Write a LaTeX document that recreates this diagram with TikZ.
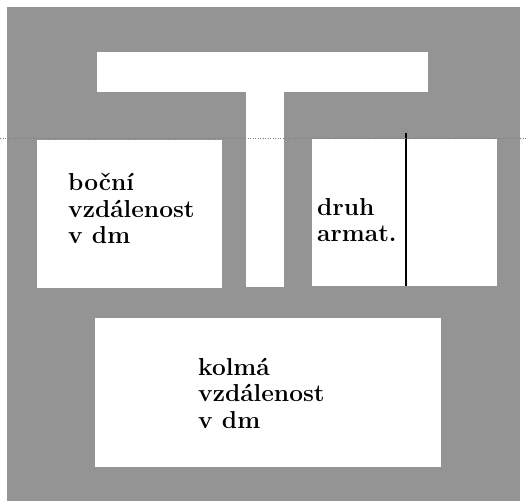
\documentclass[tikz,border=0pt]{standalone}
\usepackage{fontspec}
\begin{document}
\begin{tikzpicture}[x=1pt,y=-1pt,
  halftone/.style={fill={rgb,255:red,148;green,148;blue,148}, draw=none},
  panel/.style={fill=white, draw=none, inner sep=0pt, outer sep=0pt, anchor=north west},
  label/.style={font=\bfseries\fontsize{24.5}{26.5}\selectfont, align=left, inner sep=0pt, anchor=north west},
  divider/.style={line width=1.4pt, black},
  scanline/.style={dotted, line width=0.5pt, gray}]
\useasboundingbox (0,0) rectangle (527,501);
\fill[white] (0,0) rectangle (527,501);
\path[halftone] (7,7) rectangle (520,501);
% T shape
\node[panel, minimum width=331pt, minimum height=40pt] (bar) at (97,52) {};
\node[panel, minimum width=38pt, minimum height=195pt] (stem) at (246,92) {};
% boxes
\node[panel, minimum width=185pt, minimum height=148pt] (left) at (37,140) {};
\node[panel, minimum width=185pt, minimum height=147pt] (right) at (312,139) {};
\node[panel, minimum width=346pt, minimum height=149pt] (bottom) at (95,318) {};
% divider in right box
\coordinate (dtop) at (406,133);
\coordinate (dbot) at (406,286);
\draw[divider] (dtop) -- (dbot);
% scan line
\coordinate (sl) at (0,138);
\coordinate (sr) at (527,138);
\draw[scanline] (sl) -- (sr);
% texts
\node[label] (t1) at (68,173) {boční\\vzdálenost\\v dm};
\node[label] (t2) at (317,198) {druh\\armat.};
\node[label] (t3) at (198,358) {kolmá\\vzdálenost\\v dm};
\end{tikzpicture}
\end{document}
